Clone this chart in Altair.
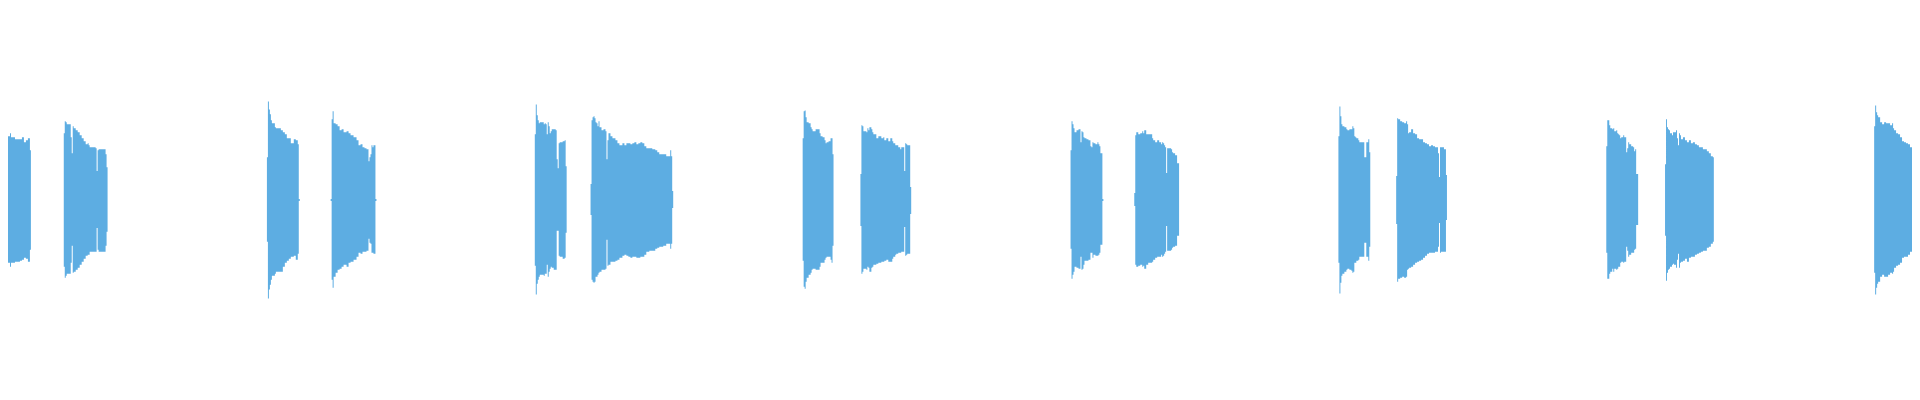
import altair as alt
import pandas as pd

# Each burst: (frame, upper envelope, lower envelope) breakpoints, step-wise
b01 = [(0,72,-70),(1,70,-68),(2,65,-60),(3,60,-59),(5,64,-63),(10,67,-67),(11,63,-63),(15,61,-62),(20,61,-61),(22,63,-60),(24,58,-58),(26,60,-59),(28,62,-62),(30,50,-50),(31,50,-50)]
b02 = [(64,67,-67),(65,79,-78),(66,78,-76),(67,76,-74),(71,63,-63),(72,47,-46),(73,74,-73),(74,72,-72),(76,70,-70),(78,68,-68),(80,65,-65),(82,62,-62),(84,59,-59),(86,56,-56),(88,57,-55),(89,55,-55),(90,53,-52),(96,52,-52),(97,29,-28),(98,50,-50),(99,51,-52),(105,51,-52),(106,46,-46),(107,33,-32),(108,33,-32)]
b03 = [(268,43,-42),(269,99,-99),(270,91,-90),(271,86,-85),(272,80,-80),(273,77,-76),(276,73,-74),(277,72,-72),(282,70,-72),(284,68,-67),(286,66,-63),(288,62,-61),(290,62,-59),(292,57,-57),(295,61,-56),(297,60,-60),(299,56,-54),(300,1,-1),(301,1,-1)]
b04 = [(332,1,-1),(333,81,-80),(334,89,-88),(335,77,-77),(337,76,-73),(339,74,-70),(341,70,-69),(343,71,-67),(345,68,-65),(348,69,-67),(350,67,-63),(352,65,-62),(355,63,-60),(358,60,-57),(360,55,-53),(362,56,-54),(364,53,-52),(366,52,-52),(368,51,-51),(370,39,-39),(371,43,-43),(372,46,-44),(373,55,-53),(374,53,-53),(375,55,-54),(377,1,-1),(378,1,-1)]
b05 = [(537,66,-66),(538,96,-95),(539,85,-84),(540,80,-80),(541,77,-77),(542,78,-75),(546,76,-76),(547,77,-74),(548,76,-74),(549,66,-65),(550,78,-77),(551,74,-72),(552,67,-69),(553,69,-67),(554,71,-68),(556,71,-70),(558,70,-70),(559,41,-31),(560,32,-31),(561,57,-56),(562,58,-57),(565,59,-59),(567,60,-58),(568,34,-33),(569,34,-33)]
b06 = [(593,16,-15),(594,80,-80),(595,83,-82),(596,84,-83),(597,82,-82),(598,78,-77),(599,77,-77),(600,74,-75),(601,79,-73),(602,73,-72),(604,70,-70),(606,71,-70),(608,69,-69),(609,41,-40),(610,60,-66),(611,67,-65),(613,64,-62),(615,62,-62),(618,60,-61),(620,57,-60),(622,55,-58),(625,57,-56),(627,55,-55),(629,57,-56),(631,57,-57),(633,56,-58),(635,57,-57),(637,58,-57),(639,56,-58),(641,57,-58),(643,58,-57),(645,57,-57),(647,54,-55),(649,52,-52),(652,52,-51),(655,51,-51),(658,50,-49),(660,48,-48),(662,46,-47),(666,46,-46),(669,44,-44),(673,50,-49),(674,44,-44),(675,9,-8),(676,9,-8)]
b07 = [(806,62,-61),(807,89,-87),(808,90,-89),(809,83,-82),(810,78,-78),(812,77,-75),(814,73,-73),(815,71,-70),(816,69,-69),(819,71,-70),(823,67,-67),(824,64,-63),(826,63,-63),(828,60,-60),(829,57,-58),(830,58,-57),(832,59,-57),(834,62,-60),(835,62,-63),(836,46,-46),(837,46,-46)]
b08 = [(864,26,-26),(865,75,-74),(866,74,-72),(867,69,-69),(870,68,-70),(871,72,-67),(872,70,-68),(873,73,-72),(875,71,-68),(876,68,-67),(877,66,-65),(880,62,-64),(882,64,-63),(885,62,-62),(887,63,-62),(888,60,-61),(890,62,-60),(892,59,-62),(894,62,-62),(896,59,-59),(897,57,-57),(899,55,-55),(900,55,-54),(902,53,-53),(904,51,-53),(905,53,-52),(906,53,-52),(908,29,-27),(909,57,-56),(910,56,-55),(911,55,-54),(914,13,-14),(915,13,-14)]
b09 = [(1075,50,-49),(1076,79,-79),(1077,76,-75),(1078,72,-72),(1079,68,-67),(1081,70,-68),(1083,71,-69),(1085,58,-57),(1086,69,-70),(1087,68,-69),(1088,63,-65),(1089,62,-61),(1091,61,-61),(1093,60,-60),(1095,54,-53),(1096,53,-53),(1097,58,-58),(1098,57,-55),(1100,56,-56),(1102,58,-56),(1103,56,-55),(1104,54,-53),(1105,47,-45),(1107,1,-1),(1108,1,-1)]
b10 = [(1139,7,-6),(1140,65,-65),(1141,68,-67),(1143,66,-66),(1145,67,-65),(1147,69,-67),(1148,67,-66),(1149,70,-69),(1151,66,-65),(1153,66,-63),(1155,66,-63),(1157,62,-62),(1158,60,-60),(1160,58,-58),(1162,60,-57),(1164,58,-57),(1166,56,-55),(1167,58,-57),(1168,57,-56),(1169,55,-54),(1170,53,-52),(1171,27,-26),(1172,52,-51),(1176,51,-50),(1177,48,-48),(1178,47,-47),(1180,45,-46),(1182,37,-36),(1184,37,-36)]
b11 = [(1344,64,-63),(1345,94,-94),(1346,84,-83),(1347,76,-76),(1348,74,-74),(1350,73,-72),(1352,71,-70),(1353,70,-69),(1355,71,-70),(1357,71,-71),(1358,74,-73),(1359,72,-72),(1360,64,-63),(1361,63,-63),(1362,62,-61),(1364,60,-60),(1365,58,-57),(1370,43,-43),(1372,58,-57),(1374,61,-61),(1375,48,-47),(1376,48,-47)]
b12 = [(1402,24,-24),(1403,82,-82),(1404,81,-79),(1406,79,-78),(1408,78,-77),(1410,77,-78),(1412,79,-77),(1413,76,-70),(1414,67,-69),(1415,68,-68),(1417,71,-67),(1419,67,-65),(1421,66,-63),(1423,62,-62),(1425,61,-61),(1427,61,-60),(1429,58,-58),(1431,57,-56),(1433,56,-54),(1435,54,-53),(1437,55,-53),(1439,54,-53),(1441,53,-52),(1444,47,-47),(1445,23,-23),(1446,53,-53),(1447,53,-52),(1450,51,-52),(1452,25,-20),(1453,25,-20)]
b13 = [(1613,54,-53),(1614,80,-79),(1616,75,-74),(1617,72,-72),(1619,71,-69),(1620,72,-72),(1621,69,-69),(1623,70,-70),(1624,67,-69),(1625,66,-67),(1626,65,-67),(1627,62,-63),(1628,63,-62),(1630,65,-63),(1631,63,-62),(1633,48,-47),(1634,52,-51),(1635,58,-57),(1636,56,-55),(1638,54,-53),(1640,53,-53),(1641,49,-50),(1642,51,-49),(1643,26,-25),(1645,26,-25)]
b14 = [(1672,36,-36),(1673,81,-81),(1674,73,-73),(1675,71,-70),(1676,70,-69),(1677,67,-67),(1679,65,-65),(1680,68,-64),(1681,68,-65),(1683,70,-68),(1684,62,-60),(1685,55,-54),(1686,67,-68),(1687,65,-63),(1688,61,-62),(1690,63,-61),(1692,60,-59),(1694,58,-62),(1696,60,-58),(1698,57,-57),(1700,58,-57),(1702,56,-55),(1704,55,-54),(1706,53,-53),(1708,53,-52),(1710,51,-51),(1712,51,-51),(1714,49,-48),(1716,47,-47),(1718,44,-44),(1720,43,-42),(1721,43,-42)]
b15 = [(1882,74,-73),(1883,95,-95),(1884,88,-88),(1885,85,-84),(1886,83,-82),(1888,78,-77),(1890,76,-75),(1892,78,-77),(1894,77,-77),(1896,77,-75),(1898,75,-73),(1900,77,-74),(1901,72,-72),(1902,70,-68),(1904,67,-66),(1906,66,-65),(1908,63,-63),(1910,59,-58),(1912,58,-57),(1914,57,-57),(1916,56,-55),(1918,53,-52),(1920,53,-52)]

bursts = [b01, b02, b03, b04, b05, b06, b07, b08, b09, b10, b11, b12, b13, b14, b15]

rows = []
for i, b in enumerate(bursts):
    for f, hi, lo in b:
        rows.append({"burst": i, "frame": f, "hi": hi, "lo": lo})
df = pd.DataFrame(rows)

chart = (
    alt.Chart(df)
    .mark_area(interpolate="step-after", color="#5DADE2", clip=True, opacity=1)
    .encode(
        x=alt.X("frame:Q", scale=alt.Scale(domain=[8, 1920], nice=False, zero=False), axis=None),
        y=alt.Y("hi:Q", scale=alt.Scale(domain=[-192, 192], nice=False, zero=False), axis=None),
        y2="lo:Q",
        detail="burst:N",
    )
    .properties(width=1912, height=384, padding=0, background="white")
    .configure_view(stroke=None)
)

chart.save("out.html", embed_options={"renderer": "svg", "actions": False})
